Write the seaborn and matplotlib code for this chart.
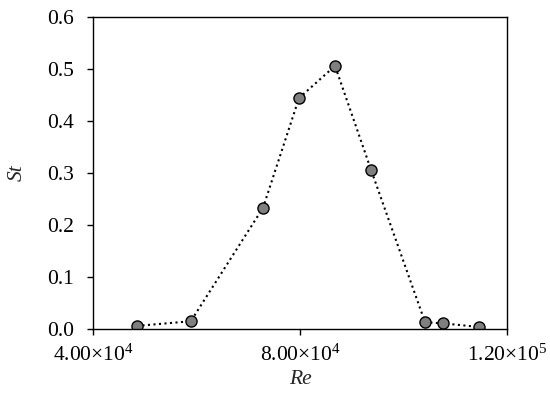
import matplotlib
matplotlib.use("Agg")
import matplotlib.pyplot as plt
import seaborn as sns
import pandas as pd

# Re vs St values
re_values = [48500, 58900, 72850, 79800, 86760, 93720, 104150, 107570, 114530]
st_values = [0.006, 0.015, 0.233, 0.444, 0.506, 0.306, 0.013, 0.011, 0.004]

x_ticks = [4.0e4, 8.0e4, 1.2e5]
x_tick_labels = [r"4.00$\times$10$^{4}$", r"8.00$\times$10$^{4}$", r"1.20$\times$10$^{5}$"]
y_ticks = [0.0, 0.1, 0.2, 0.3, 0.4, 0.5, 0.6]

sns.set_style("ticks")
plt.rcParams["font.family"] = ["Liberation Serif", "DejaVu Serif"]
plt.rcParams["mathtext.fontset"] = "custom"
plt.rcParams["mathtext.rm"] = "Liberation Serif"
plt.rcParams["mathtext.it"] = "Liberation Serif:italic"

df = pd.DataFrame({"Re": re_values, "St": st_values})

fig = plt.figure(figsize=(5.5, 3.95), dpi=100)
ax = fig.add_axes([0.169, 0.167, 0.753, 0.790])

sns.lineplot(data=df, x="Re", y="St", ax=ax, color="black", linestyle=":",
             linewidth=1.5, marker="o", markersize=8,
             markerfacecolor="#7f7f7f", markeredgecolor="black",
             markeredgewidth=1.0)

ax.set_xlim(4.0e4, 1.2e5)
ax.set_ylim(0.0, 0.6)
ax.set_xticks(x_ticks)
ax.set_xticklabels(x_tick_labels)
ax.set_yticks(y_ticks)
ax.set_yticklabels([f"{v:.1f}" for v in y_ticks])
ax.tick_params(axis="both", labelsize=15.5, direction="out", length=4.5,
               width=1.0, colors="black")
ax.tick_params(axis="y", pad=9)
ax.tick_params(axis="x", pad=7)

for side in ["left", "right", "top", "bottom"]:
    ax.spines[side].set_visible(True)
    ax.spines[side].set_color("black")
    ax.spines[side].set_linewidth(1.0)

ax.set_xlabel("Re", fontsize=15.5, style="italic", labelpad=3)
ax.set_ylabel("St", fontsize=15.5, style="italic")
ax.yaxis.set_label_coords(-0.16, 0.5)

fig.savefig("out.png", dpi=100, facecolor="white")
